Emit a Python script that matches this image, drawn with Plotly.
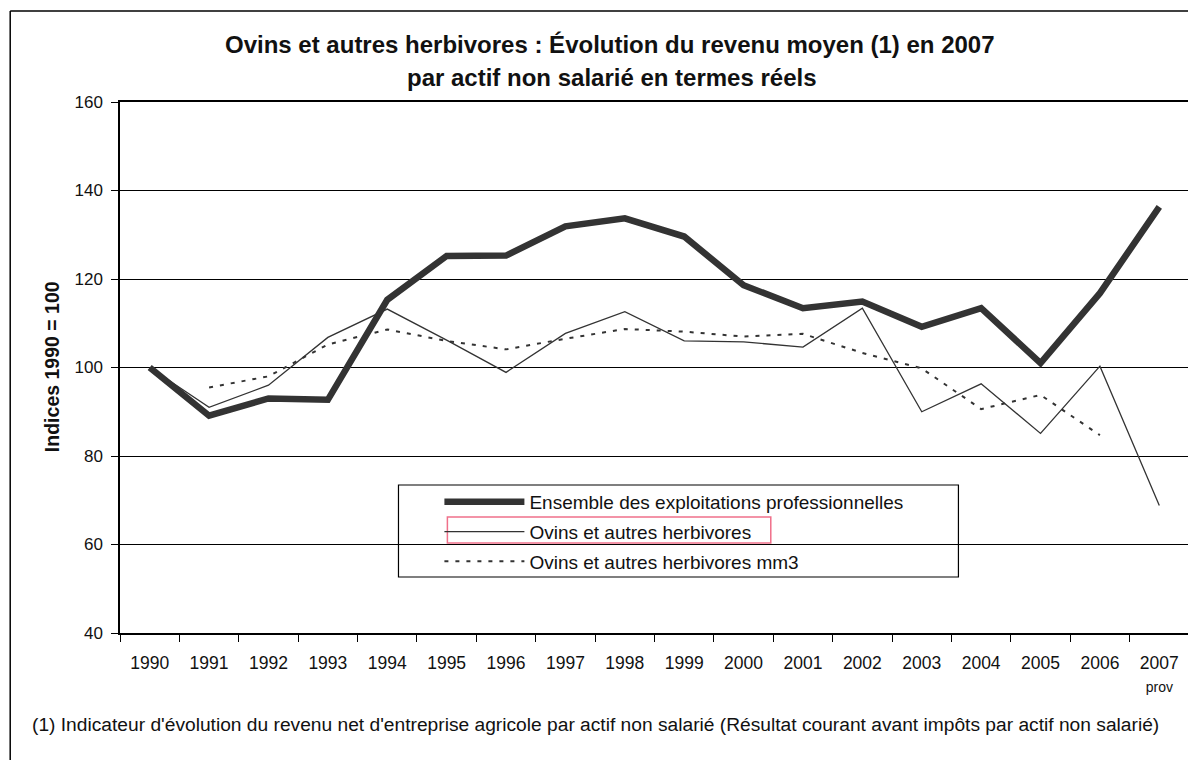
import plotly.graph_objects as go

years = ["1990", "1991", "1992", "1993", "1994", "1995", "1996", "1997", "1998",
         "1999", "2000", "2001", "2002", "2003", "2004", "2005", "2006", "2007"]
tick_labels = ["1990", "1991", "1992", "1993", "1994", "1995", "1996", "1997", "1998",
               "1999", "2000", "2001", "2002", "2003", "2004", "2005", "2006",
               "2007<br><span style='font-size:14px'>prov</span>"]

ensemble = [100, 89.1, 93.0, 92.7, 115.3, 125.2, 125.3, 131.9, 133.7,
            129.6, 118.6, 113.4, 114.9, 109.2, 113.4, 101.0, 116.8, 136.3]
ovins = [100, 91.0, 96.0, 106.8, 113.2, 106.2, 98.9, 107.7, 112.6,
         106.0, 105.8, 104.6, 113.4, 90.0, 96.3, 85.1, 100.3, 68.8]
ovins_mm3 = [None, 95.5, 98.0, 105.2, 108.6, 106.0, 104.1, 106.5, 108.7,
             108.1, 107.0, 107.6, 103.3, 99.8, 90.6, 93.8, 84.7, None]

names = ["Ensemble des exploitations professionnelles",
         "Ovins et autres herbivores",
         "Ovins et autres herbivores mm3"]

FONT = "Liberation Sans, Arial, sans-serif"

fig = go.Figure()
fig.add_trace(go.Scatter(x=years, y=ensemble, mode="lines", name=names[0],
                         legendgroup="a",
                         line=dict(color="#333333", width=6.5)))
fig.add_trace(go.Scatter(x=years, y=ovins, mode="lines", name=names[1],
                         legendgroup="b",
                         line=dict(color="#333333", width=1.3)))
fig.add_trace(go.Scatter(x=years, y=ovins_mm3, mode="lines", name=names[2],
                         legendgroup="c",
                         line=dict(color="#333333", width=2, dash="4px,7px")))

# page has an 8px body margin: figure coordinates = page coordinates - 8
OFF = 8
W, H = 1196 - OFF, 760 - OFF
PL, PR, PT, PB = 120, 1191, 102, 633          # plot area in page pixels
L, R, T, B = PL - OFF, W - (PR - OFF), PT - OFF, H - (PB - OFF)
pw, ph = W - L - R, H - T - B


def px(xp):
    return (xp - OFF - L) / pw


def py(yp):
    return (H - B - (yp - OFF)) / ph


fig.update_layout(
    width=W, height=H,
    margin=dict(l=L, r=R, t=T, b=B),
    paper_bgcolor="white", plot_bgcolor="white",
    font=dict(family=FONT, size=17, color="#111111"),
    showlegend=True,
    legend=dict(x=px(440), y=py(483), xanchor="left", yanchor="top",
                bgcolor="rgba(0,0,0,0)", borderwidth=0,
                font=dict(size=19, color="#111111"),
                itemwidth=80, tracegroupgap=2, traceorder="grouped"),
    xaxis=dict(type="category", tickmode="array", tickvals=years, ticktext=tick_labels,
               tickson="boundaries", ticks="outside", ticklen=7, tickcolor="black",
               ticklabelstandoff=13,
               showline=True, linecolor="black", linewidth=1.5, mirror=True,
               showgrid=False, tickfont=dict(size=17.5), range=[-0.5, 17.5]),
    yaxis=dict(range=[40, 160], tickmode="linear", tick0=40, dtick=20,
               ticks="outside", ticklen=7, tickcolor="black",
               ticklabelstandoff=5,
               showline=True, linecolor="black", linewidth=1.5, mirror=True,
               showgrid=True, gridcolor="black", gridwidth=1.2, zeroline=False,
               tickfont=dict(size=17)),
)

shapes = []
# outer chart frame (left and top edges visible)
shapes.append(dict(type="line", xref="paper", yref="paper",
                   x0=px(10), x1=px(10), y0=py(11), y1=py(800),
                   line=dict(color="black", width=1.5)))
shapes.append(dict(type="line", xref="paper", yref="paper",
                   x0=px(10), x1=px(1250), y0=py(11), y1=py(11),
                   line=dict(color="black", width=1.5)))
# legend box
shapes.append(dict(type="rect", xref="paper", yref="paper",
                   x0=px(399), x1=px(960), y0=py(577), y1=py(485),
                   line=dict(color="black", width=1.2), fillcolor="white",
                   layer="below"))
# pink highlight
shapes.append(dict(type="rect", xref="paper", yref="paper",
                   x0=px(448), x1=px(772), y0=py(543), y1=py(517),
                   line=dict(color="#f0708a", width=1.5), layer="above"))
fig.update_layout(shapes=shapes)

annotations = [
    dict(text="<b>Ovins et autres herbivores : Évolution du revenu moyen (1) en 2007</b>",
         xref="paper", yref="paper", x=px(611), y=py(45), xanchor="center", yanchor="middle",
         showarrow=False, font=dict(size=24, color="#111111")),
    dict(text="<b>par actif non salarié en termes réels</b>",
         xref="paper", yref="paper", x=px(613), y=py(78), xanchor="center", yanchor="middle",
         showarrow=False, font=dict(size=24, color="#111111")),
    dict(text="<b>Indices 1990 = 100</b>",
         xref="paper", yref="paper", x=px(52), y=py(367), xanchor="center", yanchor="middle",
         textangle=-90, showarrow=False, font=dict(size=19.5, color="#111111")),
    dict(text="(1) Indicateur d'évolution du revenu net d'entreprise agricole par actif non salarié "
              "(Résultat courant avant impôts par actif non salarié)",
         xref="paper", yref="paper", x=px(30), y=py(724), xanchor="left", yanchor="middle",
         showarrow=False, font=dict(size=19.2, color="#111111")),
]
fig.update_layout(annotations=annotations)

fig.write_html("out.html")
